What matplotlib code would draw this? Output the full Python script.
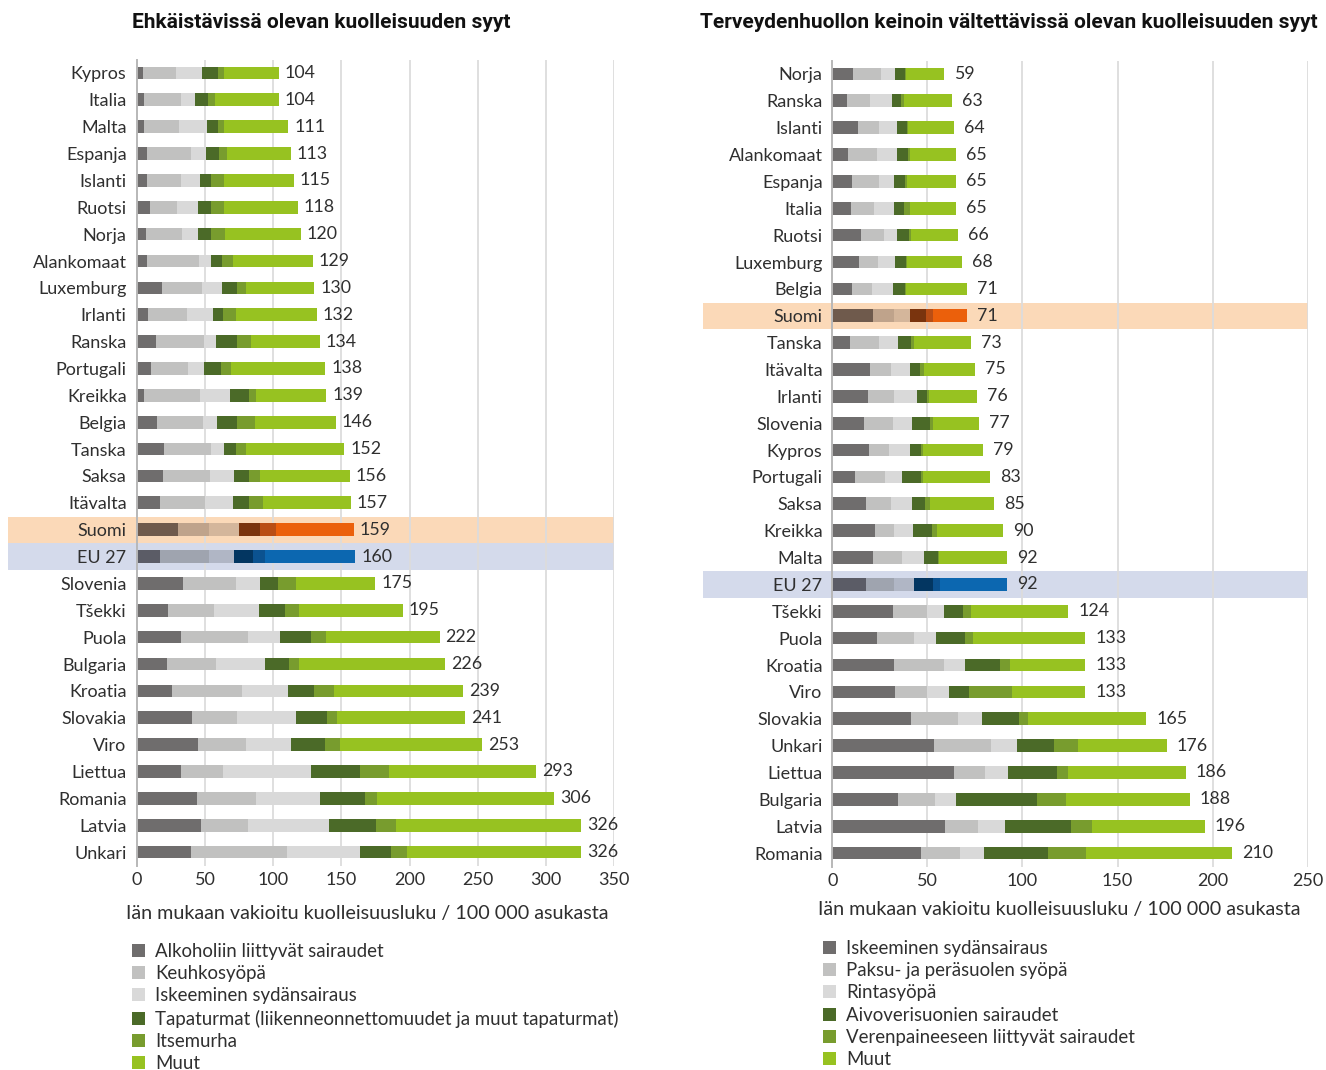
import matplotlib
matplotlib.use("Agg")
import matplotlib.pyplot as plt
from matplotlib.patches import Rectangle, Patch
from matplotlib.transforms import blended_transform_factory
import numpy as np

plt.rcParams['font.family'] = ['Lato', 'DejaVu Sans']

# ---------------- data ----------------
title_left = "Ehkäistävissä olevan kuolleisuuden syyt"
title_right = "Terveydenhuollon keinoin vältettävissä olevan kuolleisuuden syyt"
xlabel_text = "Iän mukaan vakioitu kuolleisuusluku / 100 000 asukasta"

countries_left = ["Kypros", "Italia", "Malta", "Espanja", "Islanti", "Ruotsi", "Norja",
                  "Alankomaat", "Luxemburg", "Irlanti", "Ranska", "Portugali", "Kreikka",
                  "Belgia", "Tanska", "Saksa", "Itävalta", "Suomi", "EU 27", "Slovenia",
                  "Tšekki", "Puola", "Bulgaria", "Kroatia", "Slovakia", "Viro", "Liettua",
                  "Romania", "Latvia", "Unkari"]
causes_left = ["Alkoholiin liittyvät sairaudet", "Keuhkosyöpä", "Iskeeminen sydänsairaus",
               "Tapaturmat (liikenneonnettomuudet ja muut tapaturmat)", "Itsemurha", "Muut"]
alkoholi = [4.4, 5.4, 4.9, 7.3, 7.6, 9.8, 6.8, 7.6, 18.5, 8.0, 14.1, 10.0, 4.9, 14.4, 19.8,
            19.3, 17.1, 30.2, 17.1, 33.4, 22.4, 32.2, 22.0, 25.9, 40.5, 45.1, 32.4, 43.9, 47.3, 39.8]
keuhkosyopa = [24.1, 27.0, 25.6, 32.5, 24.8, 19.7, 26.1, 37.8, 29.5, 28.8, 35.4, 27.1, 41.4, 34.1,
               34.6, 33.9, 32.9, 22.7, 35.8, 39.3, 34.2, 49.3, 36.0, 51.4, 32.9, 34.7, 30.8, 43.2,
               34.2, 70.2]
iskeeminen_l = [19.5, 10.5, 21.2, 10.9, 13.9, 15.1, 11.5, 8.7, 14.2, 19.3, 8.3, 11.9, 22.2, 10.5,
                9.1, 18.2, 20.2, 21.7, 18.0, 17.3, 32.9, 23.6, 35.7, 33.7, 42.9, 33.4, 64.6, 47.3,
                59.2, 53.9]
tapaturmat = [11.5, 9.5, 8.1, 9.5, 7.8, 9.5, 9.7, 8.6, 11.2, 7.3, 15.9, 13.0, 13.9, 14.7, 8.9,
              10.9, 12.1, 15.5, 14.1, 13.2, 19.0, 22.5, 17.8, 19.2, 23.0, 24.4, 35.6, 32.7, 34.4, 22.2]
itsemurha = [4.4, 4.9, 4.1, 6.1, 10.0, 9.8, 10.8, 8.0, 6.8, 9.5, 10.2, 7.3, 4.9, 12.9, 7.4, 7.8,
             10.1, 11.9, 8.8, 13.1, 10.3, 10.9, 7.3, 14.2, 7.3, 11.7, 21.2, 9.0, 15.1, 12.2]
muut_l = [40.1, 46.7, 47.1, 46.7, 50.9, 54.1, 55.1, 58.3, 49.8, 59.1, 50.1, 68.7, 51.7, 59.4,
          72.2, 65.9, 64.6, 57.0, 66.2, 58.7, 76.2, 83.5, 107.2, 94.6, 94.4, 103.7, 108.4, 129.9,
          135.8, 127.7]
totals_left = [104, 104, 111, 113, 115, 118, 120, 129, 130, 132, 134, 138, 139, 146, 152, 156,
               157, 159, 160, 175, 195, 222, 226, 239, 241, 253, 293, 306, 326, 326]

countries_right = ["Norja", "Ranska", "Islanti", "Alankomaat", "Espanja", "Italia", "Ruotsi",
                   "Luxemburg", "Belgia", "Suomi", "Tanska", "Itävalta", "Irlanti", "Slovenia",
                   "Kypros", "Portugali", "Saksa", "Kreikka", "Malta", "EU 27", "Tšekki", "Puola",
                   "Kroatia", "Viro", "Slovakia", "Unkari", "Liettua", "Bulgaria", "Latvia",
                   "Romania"]
causes_right = ["Iskeeminen sydänsairaus", "Paksu- ja peräsuolen syöpä", "Rintasyöpä",
                "Aivoverisuonien sairaudet", "Verenpaineeseen liittyvät sairaudet", "Muut"]
iskeeminen_r = [11.1, 7.7, 13.5, 8.2, 10.4, 9.8, 15.1, 14.0, 10.4, 21.4, 9.5, 20.0, 18.9, 16.7,
                19.3, 11.9, 17.9, 22.5, 21.2, 17.7, 31.9, 23.7, 32.5, 33.0, 41.6, 53.7, 64.2, 34.6,
                59.3, 46.7]
paksusuoli = [14.5, 12.1, 11.2, 15.3, 14.3, 12.1, 12.1, 10.2, 10.5, 11.1, 15.1, 10.9, 13.6, 15.1,
              10.5, 15.8, 13.0, 10.0, 15.5, 14.8, 18.1, 19.3, 26.3, 17.0, 24.7, 29.8, 16.3, 19.4,
              17.5, 20.5]
rintasyopa = [7.4, 11.6, 9.3, 10.5, 7.8, 10.6, 6.8, 8.8, 11.0, 8.4, 10.0, 10.0, 12.1, 10.1, 11.1,
              9.0, 11.0, 10.0, 11.5, 10.5, 8.8, 11.6, 10.8, 11.4, 12.4, 13.7, 11.9, 11.1, 14.0, 12.4]
aivoverisuoni = [5.2, 4.7, 5.3, 5.8, 5.7, 5.2, 6.4, 5.8, 6.3, 8.4, 6.8, 5.2, 5.2, 9.5, 5.8, 10.0,
                 6.9, 10.0, 7.4, 10.0, 10.0, 15.2, 18.6, 10.5, 19.5, 19.4, 25.8, 42.6, 34.7, 33.9]
verenpaine = [0.6, 1.4, 0.3, 1.1, 1.1, 3.2, 1.0, 0.5, 0.6, 3.7, 1.6, 2.1, 1.1, 1.6, 1.0, 1.0, 2.6,
              2.6, 0.5, 3.7, 4.2, 4.2, 5.3, 22.6, 4.7, 12.6, 5.8, 15.2, 11.1, 19.9]
muut_r = [20.2, 25.5, 24.4, 24.1, 25.7, 24.1, 24.6, 28.7, 32.2, 18.0, 30.0, 26.8, 25.1, 24.0,
          31.3, 35.3, 33.6, 34.9, 35.9, 35.3, 51.0, 59.0, 39.5, 38.5, 62.1, 46.8, 62.0, 65.1, 59.4,
          76.6]
totals_right = [59, 63, 64, 65, 65, 65, 66, 68, 71, 71, 73, 75, 76, 77, 79, 83, 85, 90, 92, 92,
                124, 133, 133, 133, 165, 176, 186, 188, 196, 210]

xticks_left = [0, 50, 100, 150, 200, 250, 300, 350]
xticks_right = [0, 50, 100, 150, 200, 250]

# ---------------- styles ----------------
base_colors = ["#6f6d6d", "#c1c1c0", "#d9d9d9", "#4b6a28", "#789c2e", "#97c221"]
fin_colors = ["#6f5a4c", "#bfa38b", "#d4b69b", "#7a340e", "#b94e15", "#eb600b"]
eu_colors = ["#5b5c66", "#9fa4af", "#b0b6c5", "#033661", "#0b5290", "#0c67b0"]
fin_band = "#fbd9b8"
eu_band = "#d4daeb"
TEXT = "#2f2f2f"
FS = 13
FS_VAL = 12.8
FS_LEG = 13.4
FS_XL = 14.2

W, H = 1326, 1070
fig = plt.figure(figsize=(W / 100, H / 100), dpi=100)


def fx(px):
    return px / W


def fy(py):
    return 1 - py / H


def panel(ax_rect, countries, series, totals, xticks, label_off_px, band_x, ypad):
    ax = fig.add_axes(ax_rect)
    n = len(countries)
    y = np.arange(n)
    left = np.zeros(n)
    for k, vals in enumerate(series):
        cols = [fin_colors[k] if c == "Suomi" else eu_colors[k] if c == "EU 27" else base_colors[k]
                for c in countries]
        ax.barh(y, vals, left=left, height=0.47, color=cols, linewidth=0, zorder=2)
        left = left + np.asarray(vals)
    for yi, (end, tot) in enumerate(zip(left, totals)):
        ax.annotate(str(tot), xy=(end, yi), xytext=(label_off_px * 0.72, 0),
                    textcoords="offset points", va="center", ha="left",
                    fontsize=FS_VAL, color=TEXT)
    tr = blended_transform_factory(fig.transFigure, ax.transData)
    for name, col in (("Suomi", fin_band), ("EU 27", eu_band)):
        i = countries.index(name)
        ax.add_patch(Rectangle((fx(band_x[0]), i - 0.49), fx(band_x[1] - band_x[0]), 0.98,
                               transform=tr, facecolor=col, edgecolor="none",
                               clip_on=False, zorder=0.1))
    ax.set_xlim(xticks[0], xticks[-1])
    ax.set_ylim(n - 0.5, -0.5)
    ax.set_yticks(y, countries)
    ax.set_xticks(xticks)
    ax.tick_params(axis="both", length=0, labelsize=FS, colors=TEXT)
    ax.tick_params(axis="y", pad=ypad)
    ax.tick_params(axis="x", pad=5)
    ax.set_axisbelow(True)
    ax.grid(axis="x", color="#dcdcdc", linewidth=1.3, zorder=0.5)
    for s in ("top", "right", "bottom"):
        ax.spines[s].set_visible(False)
    ax.spines["left"].set_color("#b8b8b8")
    ax.spines["left"].set_linewidth(1.4)
    ax.spines["left"].set_zorder(3)
    return ax


axL = panel([fx(137), fy(865.5), fx(614 - 137), fy(59.5) - fy(865.5)], countries_left,
            [alkoholi, keuhkosyopa, iskeeminen_l, tapaturmat, itsemurha, muut_l],
            totals_left, xticks_left, 6, (8, 614), 7.5)
axR = panel([fx(832.3), fy(866.5), fx(1307.7 - 832.3), fy(60.5) - fy(866.5)], countries_right,
            [iskeeminen_r, paksusuoli, rintasyopa, aivoverisuoni, verenpaine, muut_r],
            totals_right, xticks_right, 10, (703, 1308), 7)

title_font = dict(family=["Liberation Sans Narrow", "Roboto", "DejaVu Sans"], weight="bold",
                  fontsize=15, color="#111111", ha="center", va="center")
fig.text(fx(321), fy(22), title_left, **title_font)
fig.text(fx(1009), fy(22), title_right, **title_font)

fig.text(fx(367), fy(914), xlabel_text, fontsize=FS_XL, color=TEXT, ha="center", va="center")
fig.text(fx(1059), fy(909), xlabel_text, fontsize=FS_XL, color=TEXT, ha="center", va="center")

for ax, causes, x0, y0 in ((axL, causes_left, 132, 943), (axR, causes_right, 823, 940)):
    handles = [Patch(facecolor=c, edgecolor="none") for c in base_colors]
    ax.legend(handles, causes, loc="upper left", bbox_to_anchor=(fx(x0), fy(y0)),
              bbox_transform=fig.transFigure, frameon=False, fontsize=FS_LEG,
              handlelength=0.7, handleheight=0.7, handletextpad=0.55, labelspacing=0.28,
              borderaxespad=0, borderpad=0, labelcolor=TEXT)

fig.savefig("out.png", dpi=100, facecolor="white")
